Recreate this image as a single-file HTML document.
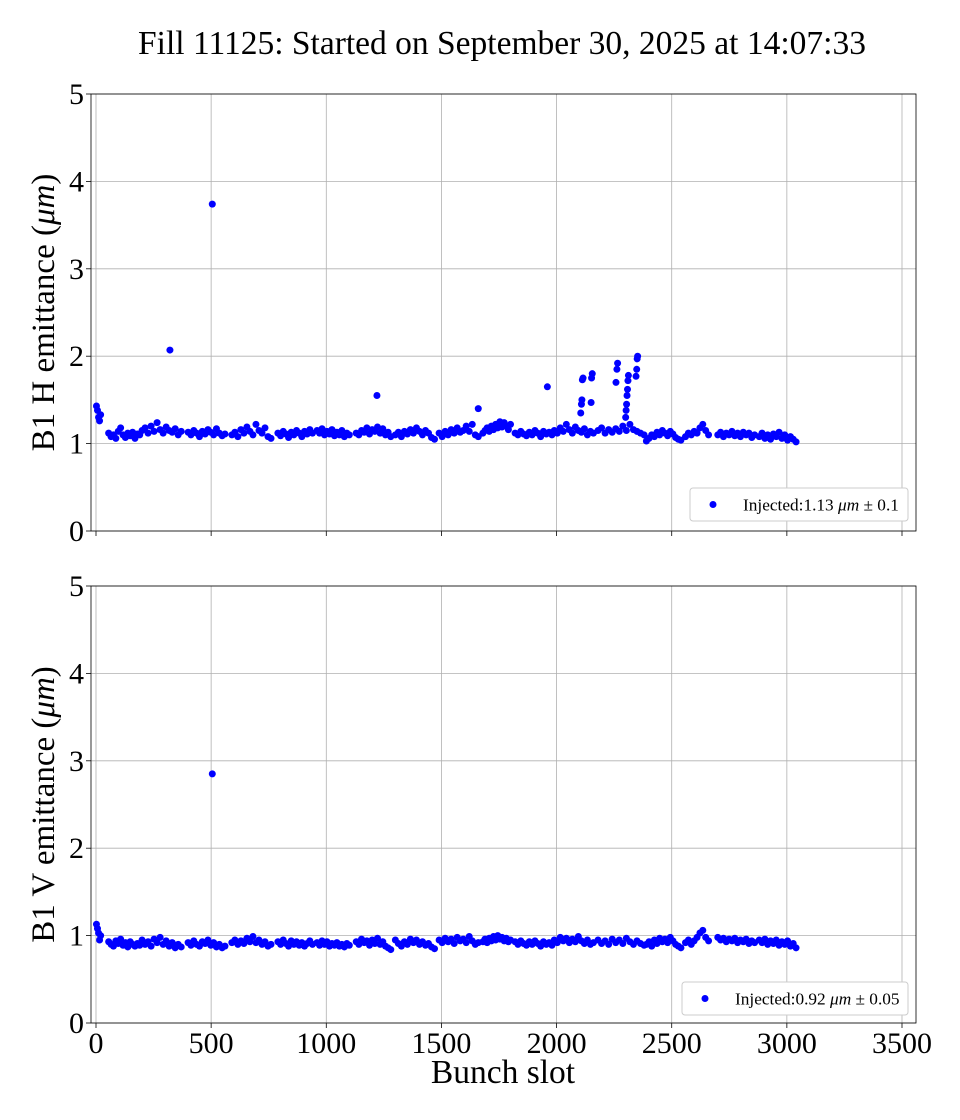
<!DOCTYPE html>
<html><head><meta charset="utf-8"><style>
body{margin:0;background:#fff;}
svg{display:block;font-family:"Liberation Serif","DejaVu Serif",serif;}
</style></head><body>
<svg id="c" width="960" height="1120"></svg>
<script>
// ---- data ----
const xTicks=[0,500,1000,1500,2000,2500,3000,3500];
const yTicks=[0,1,2,3,4,5];
const trainStartsH=[2,55,200,400,590,790,960,1130,1300,1490,1680,1820,1990,2180,2390,2560,2700,2880];
const trainEndsH=[20,190,370,560,760,940,1100,1280,1470,1660,1800,1980,2160,2380,2540,2660,2860,3040];
const trainValsH=[
[1.43,1.38,1.30,1.26,1.33],
[1.12,1.08,1.10,1.06,1.14,1.18,1.10,1.07,1.12,1.09,1.13,1.06,1.11,1.10],
[1.15,1.18,1.12,1.20,1.14,1.24,1.16,1.12,1.19,1.15,1.13,1.17,1.10,1.14],
[1.13,1.10,1.15,1.12,1.08,1.14,1.11,1.16,1.13,1.10,1.17,1.12,1.09,1.11],
[1.10,1.13,1.08,1.16,1.12,1.19,1.14,1.10,1.22,1.15,1.12,1.18,1.08,1.06],
[1.12,1.09,1.14,1.11,1.07,1.13,1.10,1.15,1.12,1.08,1.14,1.11,1.16,1.12],
[1.15,1.12,1.17,1.10,1.14,1.11,1.16,1.09,1.13,1.10,1.15,1.08,1.12,1.10],
[1.12,1.10,1.15,1.13,1.18,1.11,1.16,1.14,1.19,1.12,1.17,1.10,1.13,1.08],
[1.10,1.13,1.08,1.14,1.11,1.16,1.12,1.18,1.14,1.10,1.15,1.12,1.07,1.05],
[1.12,1.08,1.14,1.10,1.16,1.12,1.18,1.13,1.15,1.20,1.14,1.22,1.10,1.08],
[1.12,1.15,1.18,1.14,1.20,1.16,1.22,1.18,1.25,1.19,1.24,1.20,1.16,1.22],
[1.12,1.10,1.14,1.11,1.09,1.13,1.10,1.15,1.12,1.08,1.14,1.11,1.13,1.10],
[1.15,1.12,1.18,1.14,1.22,1.16,1.12,1.19,1.15,1.13,1.17,1.10,1.14,1.12],
[1.15,1.18,1.12,1.16,1.13,1.17,1.14,1.20,1.15,1.22,1.16,1.14,1.12,1.10],
[1.03,1.06,1.10,1.08,1.13,1.10,1.15,1.12,1.09,1.14,1.11,1.07,1.05,1.04],
[1.08,1.12,1.10,1.14,1.12,1.18,1.22,1.15,1.10],
[1.10,1.13,1.08,1.12,1.10,1.14,1.09,1.12,1.08,1.13,1.10,1.12,1.07,1.10],
[1.08,1.12,1.06,1.10,1.05,1.11,1.08,1.13,1.06,1.10,1.04,1.08,1.05,1.02]];
const outlierSlotsH=[321,505,1220,1660,1960,2105,2108,2110,2112,2115,2150,2152,2155,2258,2262,2265,2300,2302,2304,2306,2308,2310,2312,2345,2348,2350,2352];
const outlierValsH=[2.07,3.74,1.55,1.40,1.65,1.35,1.45,1.50,1.73,1.75,1.47,1.75,1.80,1.70,1.85,1.92,1.30,1.38,1.45,1.55,1.62,1.72,1.78,1.77,1.85,1.97,2.00];
const trainValsV=[
[1.13,1.08,1.03,0.95,1.00],
[0.93,0.90,0.88,0.94,0.91,0.96,0.89,0.92,0.87,0.93,0.90,0.88,0.91,0.89],
[0.95,0.90,0.93,0.88,0.96,0.92,0.98,0.90,0.94,0.88,0.92,0.86,0.90,0.87],
[0.92,0.89,0.94,0.90,0.88,0.93,0.91,0.95,0.89,0.92,0.87,0.90,0.86,0.88],
[0.92,0.95,0.90,0.94,0.91,0.97,0.93,0.99,0.92,0.95,0.90,0.93,0.88,0.90],
[0.93,0.90,0.95,0.91,0.88,0.94,0.90,0.93,0.89,0.92,0.88,0.91,0.94,0.90],
[0.92,0.89,0.94,0.90,0.93,0.88,0.91,0.89,0.92,0.88,0.90,0.87,0.91,0.89],
[0.93,0.90,0.96,0.92,0.94,0.89,0.95,0.91,0.97,0.90,0.93,0.88,0.86,0.84],
[0.95,0.91,0.88,0.93,0.90,0.96,0.92,0.95,0.90,0.93,0.89,0.91,0.87,0.85],
[0.95,0.92,0.97,0.93,0.96,0.91,0.98,0.94,0.96,0.92,0.99,0.94,0.90,0.92],
[0.93,0.96,0.92,0.97,0.94,0.99,0.95,1.00,0.96,0.98,0.94,0.97,0.93,0.95],
[0.93,0.90,0.94,0.91,0.89,0.93,0.90,0.94,0.91,0.88,0.93,0.90,0.92,0.89],
[0.95,0.92,0.98,0.94,0.97,0.92,0.96,0.93,0.99,0.94,0.91,0.95,0.90,0.92],
[0.95,0.91,0.94,0.90,0.96,0.92,0.95,0.91,0.97,0.93,0.90,0.94,0.91,0.89],
[0.90,0.93,0.88,0.95,0.91,0.97,0.93,0.96,0.92,0.98,0.94,0.90,0.88,0.86],
[0.92,0.95,0.90,0.94,0.98,1.03,1.06,0.98,0.94],
[0.98,0.95,0.97,0.93,0.96,0.94,0.97,0.92,0.95,0.93,0.96,0.91,0.94,0.92],
[0.95,0.92,0.96,0.90,0.94,0.91,0.95,0.89,0.93,0.90,0.94,0.88,0.91,0.86]];
const outlierSlotsV=[505];
const outlierValsV=[2.85];

// ---- drawing ----
const NS="http://www.w3.org/2000/svg";
const svg=document.getElementById('c');
function el(tag,attrs,parent){const e=document.createElementNS(NS,tag);for(const k in attrs)e.setAttribute(k,attrs[k]);(parent||svg).appendChild(e);return e;}
const X0=91,X1=916;
const R=3.5;
const xScale=v=>96+v*(902-96)/3500;

function panel(top,bottom,name,label,legendText,valsList,oSlots,oVals,showXLabels,legBox){
  const yScale=v=>bottom-v*(bottom-top)/5;
  const g=el('g',{});
  
  
  xTicks.forEach(t=>{const l=el('line',{x1:xScale(t),x2:xScale(t),y1:top,y2:bottom,stroke:'#b0b0b0','stroke-width':0.8},g);
    const tk=el('line',{x1:xScale(t),x2:xScale(t),y1:bottom,y2:bottom+5,stroke:'#000','stroke-width':0.8},g);
    if(showXLabels){const tx=el('text',{x:xScale(t),y:bottom+30,'text-anchor':'middle','font-size':30},g);tx.textContent=t;}});
  yTicks.forEach(t=>{const l=el('line',{x1:X0,x2:X1,y1:yScale(t),y2:yScale(t),stroke:'#b0b0b0','stroke-width':0.8},g);
    const tk=el('line',{x1:X0-5,x2:X0,y1:yScale(t),y2:yScale(t),stroke:'#000','stroke-width':0.8},g);
    const tx=el('text',{x:X0-7,y:yScale(t)+10,'text-anchor':'end','font-size':30},g);tx.textContent=t;});
  const pts=el('g',{fill:'#0000ff'},g);
  
  
  valsList.forEach((vals,ti)=>{const s=trainStartsH[ti],e=trainEndsH[ti],n=vals.length;
    vals.forEach((v,i)=>{const slot=n>1?s+(e-s)*i/(n-1):s;const c=el('circle',{cx:xScale(slot),cy:yScale(v),r:R},pts);});});
  oSlots.forEach((s,i)=>{const c=el('circle',{cx:xScale(s),cy:yScale(oVals[i]),r:R},pts);});
  const fr=el('rect',{x:X0,y:top,width:X1-X0,height:bottom-top,fill:'none',stroke:'#000','stroke-width':0.8},g);
  
  const yl=el('text',{x:0,y:0,transform:`translate(54,${(top+bottom)/2}) rotate(-90)`,'text-anchor':'middle','font-size':33},g);
  yl.innerHTML=label;
  
  const lg=el('g',{},g);
  
  el('rect',{x:legBox[0],y:legBox[1],width:legBox[2],height:legBox[3],rx:3,fill:'#fff',stroke:'#ccc','stroke-width':1},lg);
  el('circle',{cx:legBox[0]+23,cy:legBox[1]+legBox[3]/2,r:R,fill:'#0000ff'},lg);
  const lt=el('text',{x:legBox[0]+53,y:legBox[1]+legBox[3]/2+6,'font-size':17.3},lg);
  lt.innerHTML=legendText;
  
}
const t=el('text',{x:502,y:54,'text-anchor':'middle','font-size':33.5});
t.textContent='Fill 11125: Started on September 30, 2025 at 14:07:33';

panel(94,531,'top-panel-h-emittance','B1 H emittance (<tspan font-style="italic">μm</tspan>)','Injected:1.13 <tspan font-style="italic">μm</tspan> ± 0.1',trainValsH,outlierSlotsH,outlierValsH,false,[690,488,218,33]);
panel(586,1023,'bottom-panel-v-emittance','B1 V emittance (<tspan font-style="italic">μm</tspan>)','Injected:0.92 <tspan font-style="italic">μm</tspan> ± 0.05',trainValsV,outlierSlotsV,outlierValsV,true,[682,982,226,33]);
const xl=el('text',{x:503,y:1083,'text-anchor':'middle','font-size':33.5});
xl.textContent='Bunch slot';

</script>
</body></html>
